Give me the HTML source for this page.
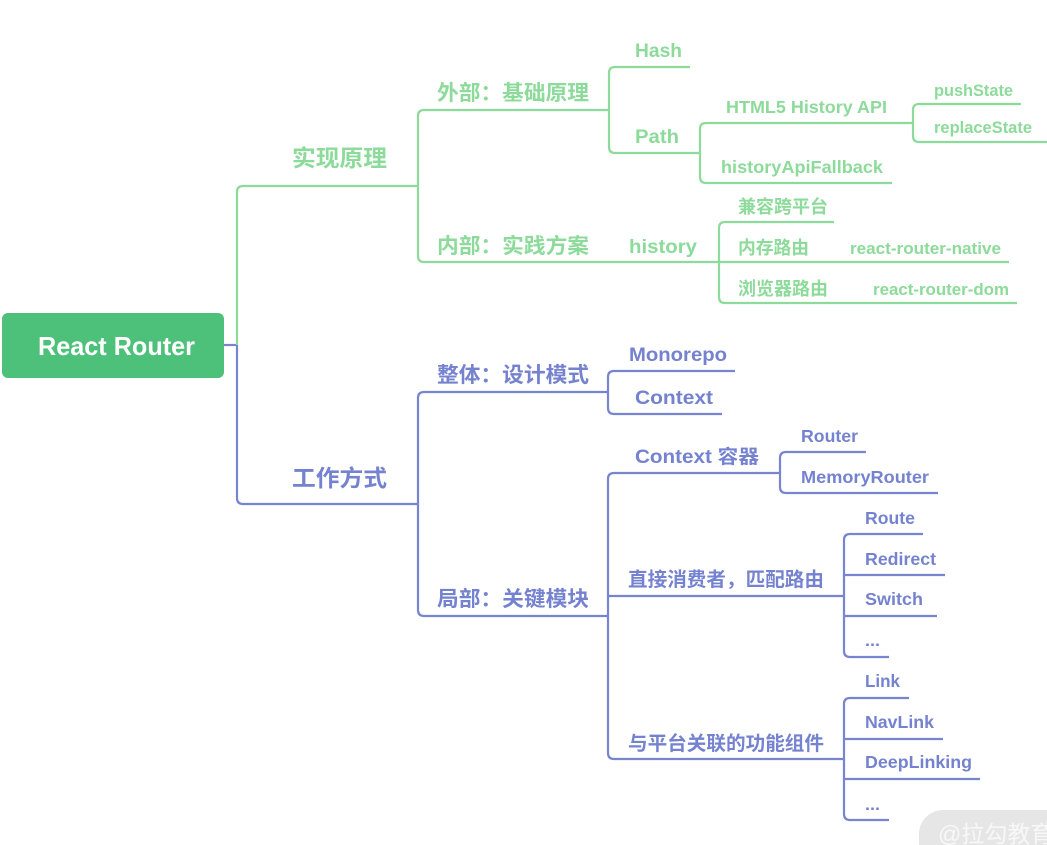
<!DOCTYPE html>
<html>
<head>
<meta charset="utf-8">
<style>
  html, body { margin:0; padding:0; background:#ffffff; }
  body { width:1047px; height:845px; overflow:hidden; }
  svg { display:block; }
  text { font-family:"Liberation Sans","Noto Sans CJK SC",sans-serif; font-weight:bold; }
  .g { fill:#8ddb9a; }
  .b { fill:#7482cf; }
  .lg { fill:none; stroke:#8ddb9a; stroke-width:2.2; stroke-linecap:butt; stroke-linejoin:round; }
  .lb { fill:none; stroke:#7784d0; stroke-width:2.2; stroke-linecap:butt; stroke-linejoin:round; }
</style>
</head>
<body>
<svg width="1047" height="845" viewBox="0 0 1047 845" xmlns="http://www.w3.org/2000/svg">
  <!-- Root -->
  <rect x="2" y="313" width="222" height="65" rx="6" ry="6" fill="#4dc17a"/>
  <text x="38" y="355" font-size="26" fill="#ffffff" textLength="157" lengthAdjust="spacingAndGlyphs">React Router</text>

  <!-- Level 1 connectors -->
  <path class="lb" d="M224 345 H237"/>
  <path class="lg" d="M418 186 H243 Q237 186 237 192 V345"/>
  <path class="lb" d="M237 345 V498 Q237 504 243 504 H418"/>

  <text class="g" x="292" y="166" font-size="23" textLength="95" lengthAdjust="spacingAndGlyphs">实现原理</text>
  <text class="b" x="292" y="486" font-size="23" textLength="95" lengthAdjust="spacingAndGlyphs">工作方式</text>

  <!-- ===== Green branch ===== -->
  <path class="lg" d="M609 110 H424 Q418 110 418 116 V256 Q418 262 424 262 H1009"/>
  <text class="g" x="437" y="100" font-size="21" textLength="152" lengthAdjust="spacingAndGlyphs">外部：基础原理</text>
  <text class="g" x="437" y="253" font-size="21" textLength="152" lengthAdjust="spacingAndGlyphs">内部：实践方案</text>

  <!-- 外部 children -->
  <path class="lg" d="M690 67 H615 Q609 67 609 73 V147 Q609 153 615 153 H700"/>
  <text class="g" x="635" y="57" font-size="19.5" textLength="47" lengthAdjust="spacingAndGlyphs">Hash</text>
  <text class="g" x="635" y="143" font-size="19.5" textLength="44" lengthAdjust="spacingAndGlyphs">Path</text>

  <!-- Path children -->
  <path class="lg" d="M913 123 H706 Q700 123 700 129 V177 Q700 183 706 183 H892"/>
  <text class="g" x="726" y="113" font-size="17.5" textLength="161" lengthAdjust="spacingAndGlyphs">HTML5 History API</text>
  <text class="g" x="721" y="173" font-size="17.5" textLength="162" lengthAdjust="spacingAndGlyphs">historyApiFallback</text>

  <!-- HTML5 children -->
  <path class="lg" d="M1021 104 H919 Q913 104 913 110 V136 Q913 142 919 142 H1047"/>
  <text class="g" x="934" y="96" font-size="17" textLength="79" lengthAdjust="spacingAndGlyphs">pushState</text>
  <text class="g" x="934" y="133" font-size="17" textLength="98" lengthAdjust="spacingAndGlyphs">replaceState</text>

  <!-- history -->
  <text class="g" x="629" y="253" font-size="19.5" textLength="68" lengthAdjust="spacingAndGlyphs">history</text>
  <path class="lg" d="M834 222 H725 Q719 222 719 228 V297 Q719 303 725 303 H1017"/>
  <text class="g" x="738" y="213" font-size="18" textLength="90" lengthAdjust="spacingAndGlyphs">兼容跨平台</text>
  <text class="g" x="738" y="254" font-size="18" textLength="71" lengthAdjust="spacingAndGlyphs">内存路由</text>
  <text class="g" x="738" y="295" font-size="18" textLength="90" lengthAdjust="spacingAndGlyphs">浏览器路由</text>
  <text class="g" x="850" y="254" font-size="17" textLength="151" lengthAdjust="spacingAndGlyphs">react-router-native</text>
  <text class="g" x="873" y="295" font-size="17" textLength="136" lengthAdjust="spacingAndGlyphs">react-router-dom</text>

  <!-- ===== Blue branch ===== -->
  <path class="lb" d="M608 392 H424 Q418 392 418 398 V610 Q418 616 424 616 H608"/>
  <text class="b" x="437" y="382" font-size="21" textLength="152" lengthAdjust="spacingAndGlyphs">整体：设计模式</text>
  <text class="b" x="437" y="606" font-size="21" textLength="152" lengthAdjust="spacingAndGlyphs">局部：关键模块</text>

  <!-- 整体 children -->
  <path class="lb" d="M735 371 H614 Q608 371 608 377 V408 Q608 414 614 414 H722"/>
  <text class="b" x="629" y="361" font-size="19.5" textLength="98" lengthAdjust="spacingAndGlyphs">Monorepo</text>
  <text class="b" x="635" y="404" font-size="19.5" textLength="78" lengthAdjust="spacingAndGlyphs">Context</text>

  <!-- 局部 children -->
  <path class="lb" d="M780 473 H614 Q608 473 608 479 V753 Q608 759 614 759 H844"/>
  <path class="lb" d="M608 596 H844"/>
  <text class="b" x="635" y="463" font-size="19" textLength="124" lengthAdjust="spacingAndGlyphs">Context 容器</text>
  <text class="b" x="628" y="586" font-size="19.5" textLength="196" lengthAdjust="spacingAndGlyphs">直接消费者，匹配路由</text>
  <text class="b" x="628" y="750" font-size="19.5" textLength="196" lengthAdjust="spacingAndGlyphs">与平台关联的功能组件</text>

  <!-- Context 容器 children -->
  <path class="lb" d="M866 452 H786 Q780 452 780 458 V487 Q780 493 786 493 H938"/>
  <text class="b" x="801" y="442" font-size="17.5" textLength="57" lengthAdjust="spacingAndGlyphs">Router</text>
  <text class="b" x="801" y="483" font-size="17.5" textLength="128" lengthAdjust="spacingAndGlyphs">MemoryRouter</text>

  <!-- 直接消费者 children -->
  <path class="lb" d="M923 534 H850 Q844 534 844 540 V651 Q844 657 850 657 H889"/>
  <path class="lb" d="M844 575 H945"/>
  <path class="lb" d="M844 616 H937"/>
  <text class="b" x="865" y="524" font-size="17.5" textLength="50" lengthAdjust="spacingAndGlyphs">Route</text>
  <text class="b" x="865" y="565" font-size="17.5" textLength="71" lengthAdjust="spacingAndGlyphs">Redirect</text>
  <text class="b" x="865" y="605" font-size="17.5" textLength="58" lengthAdjust="spacingAndGlyphs">Switch</text>
  <text class="b" x="865" y="646" font-size="17" textLength="15" lengthAdjust="spacingAndGlyphs">...</text>

  <!-- 与平台 children -->
  <path class="lb" d="M909 698 H850 Q844 698 844 704 V814 Q844 820 850 820 H889"/>
  <path class="lb" d="M844 739 H943"/>
  <path class="lb" d="M844 779 H980"/>
  <text class="b" x="865" y="687" font-size="17.5" textLength="35" lengthAdjust="spacingAndGlyphs">Link</text>
  <text class="b" x="865" y="728" font-size="17.5" textLength="69" lengthAdjust="spacingAndGlyphs">NavLink</text>
  <text class="b" x="865" y="768" font-size="17.5" textLength="107" lengthAdjust="spacingAndGlyphs">DeepLinking</text>
  <text class="b" x="865" y="810" font-size="17" textLength="15" lengthAdjust="spacingAndGlyphs">...</text>

  <!-- Watermark -->
  <rect x="919" y="810" width="170" height="70" rx="24" ry="24" fill="#e6e6e6"/>
  <text x="938" y="842" font-size="23" fill="#f8f8f8" style="font-weight:normal">@拉勾教育</text>
</svg>
</body>
</html>
